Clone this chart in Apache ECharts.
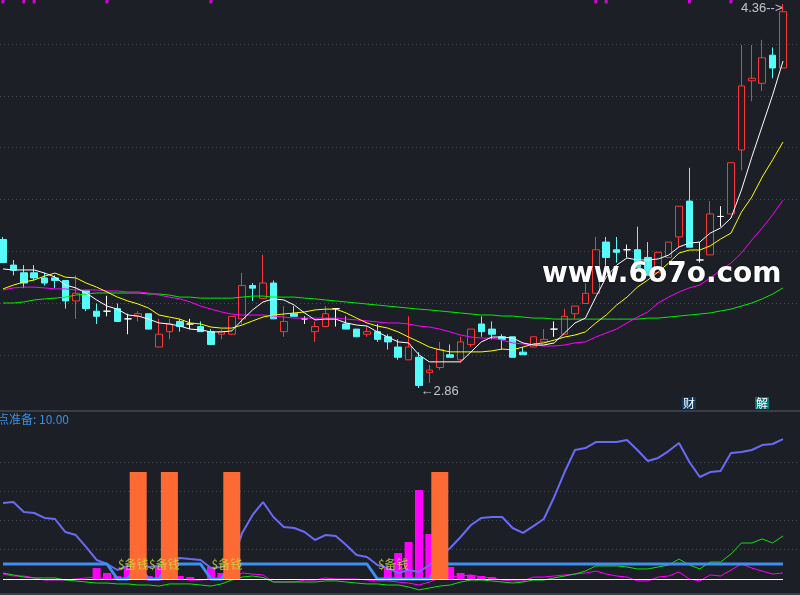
<!DOCTYPE html>
<html><head><meta charset="utf-8">
<script src="https://cdn.jsdelivr.net/npm/echarts@6/dist/echarts.min.js"></script>
<style>html,body{margin:0;padding:0;background:#1c1f26;}#c{width:800px;height:595px;}</style>
</head><body><div id="c"></div>
<script>
// [open, close, low, high]
const candles = [
[3.44,3.35,3.35,3.45],[3.34,3.32,3.30,3.36],[3.31,3.27,3.25,3.34],[3.31,3.29,3.28,3.34],[3.29,3.27,3.26,3.31],
[3.29,3.28,3.25,3.30],[3.28,3.20,3.17,3.28],[3.20,3.23,3.13,3.30],[3.24,3.17,3.16,3.24],[3.16,3.14,3.11,3.19],
[3.16,3.16,3.14,3.22],[3.17,3.12,3.12,3.19],[3.13,3.13,3.07,3.15],[3.14,3.15,3.12,3.16],[3.15,3.09,3.09,3.15],
[3.02,3.07,3.02,3.13],[3.08,3.11,3.05,3.13],[3.12,3.10,3.08,3.13],[3.11,3.11,3.09,3.13],[3.10,3.08,3.08,3.12],
[3.08,3.03,3.03,3.09],[3.07,3.08,3.05,3.09],[3.07,3.14,3.07,3.14],[3.13,3.26,3.11,3.31],[3.26,3.25,3.20,3.27],
[3.21,3.27,3.21,3.38],[3.27,3.13,3.13,3.28],[3.08,3.12,3.06,3.18],[3.15,3.14,3.14,3.18],[3.13,3.13,3.11,3.14],
[3.08,3.10,3.04,3.12],[3.10,3.15,3.10,3.18],[3.17,3.17,3.10,3.17],[3.11,3.09,3.09,3.14],[3.09,3.06,3.06,3.09],
[3.07,3.08,3.06,3.10],[3.08,3.05,3.04,3.11],[3.06,3.04,3.01,3.07],[3.02,2.98,2.97,3.05],[2.97,3.02,2.97,3.14],
[2.98,2.87,2.86,3.00],[2.92,2.93,2.88,2.95],[2.94,3.01,2.93,3.04],[2.99,2.98,2.98,3.03],[2.97,3.04,2.96,3.06],
[3.03,3.09,3.02,3.09],[3.11,3.08,3.06,3.14],[3.09,3.07,3.05,3.12],[3.06,3.05,3.01,3.07],[3.06,2.98,2.98,3.06],
[3.00,2.99,2.99,3.02],[3.02,3.06,3.02,3.06],[3.04,3.05,3.04,3.09],[3.09,3.09,3.06,3.12],[3.07,3.14,3.07,3.17],
[3.15,3.18,3.13,3.18],[3.19,3.23,3.19,3.27],[3.23,3.40,3.23,3.45],[3.43,3.37,3.33,3.45],[3.40,3.39,3.35,3.45],
[3.40,3.40,3.37,3.42],[3.40,3.33,3.33,3.49],[3.37,3.30,3.30,3.43],[3.31,3.39,3.31,3.39],[3.37,3.43,3.37,3.43],
[3.45,3.57,3.41,3.57],[3.59,3.41,3.41,3.72],[3.36,3.36,3.35,3.43],[3.38,3.54,3.38,3.59],[3.53,3.53,3.49,3.57],
[3.54,3.74,3.54,3.74],[3.79,4.04,3.71,4.20],[4.06,4.07,3.98,4.20],[4.05,4.15,4.02,4.22],[4.16,4.11,4.07,4.19],
[4.11,4.33,4.11,4.36]
];
const ma5 = [3.325,3.321,3.321,3.321,3.309,3.293,3.262,3.251,3.231,3.204,3.180,3.168,3.145,3.141,3.129,3.114,3.110,3.102,3.090,3.087,
3.079,3.079,3.083,3.126,3.165,3.196,3.208,3.204,3.184,3.153,3.126,3.129,3.129,3.114,3.106,3.102,3.079,3.059,3.040,3.036,
2.989,2.962,2.962,2.962,2.962,3.001,3.040,3.059,3.059,3.055,3.036,3.028,3.028,3.036,3.075,3.114,3.133,3.215,3.293,3.340,
3.368,3.360,3.360,3.364,3.379,3.411,3.426,3.430,3.465,3.485,3.524,3.633,3.762,3.883,4.004,4.137];
const ma10 = [3.247,3.262,3.274,3.282,3.297,3.309,3.293,3.290,3.270,3.254,3.235,3.215,3.200,3.188,3.172,3.145,3.137,3.129,3.114,3.110,
3.098,3.094,3.094,3.106,3.122,3.137,3.145,3.149,3.153,3.157,3.165,3.168,3.168,3.153,3.133,3.114,3.102,3.094,3.079,3.059,
3.040,3.020,3.009,3.001,3.001,3.001,3.001,3.005,3.012,3.009,3.020,3.032,3.036,3.047,3.059,3.067,3.079,3.114,3.145,3.184,
3.215,3.254,3.282,3.313,3.348,3.387,3.399,3.399,3.415,3.442,3.465,3.547,3.606,3.684,3.751,3.821];
const ma20 = [3.243,3.251,3.254,3.254,3.251,3.247,3.247,3.243,3.243,3.243,3.239,3.239,3.235,3.235,3.231,3.223,3.215,3.208,3.196,3.180,
3.168,3.157,3.149,3.145,3.145,3.145,3.141,3.137,3.133,3.133,3.133,3.133,3.133,3.129,3.126,3.122,3.118,3.114,3.114,3.110,
3.102,3.098,3.090,3.079,3.067,3.059,3.055,3.055,3.047,3.036,3.032,3.028,3.024,3.024,3.028,3.036,3.040,3.059,3.075,3.090,
3.114,3.137,3.157,3.192,3.215,3.235,3.251,3.262,3.290,3.321,3.348,3.387,3.438,3.485,3.536,3.594];
const ma60 = [3.192,3.192,3.196,3.204,3.208,3.211,3.215,3.223,3.227,3.231,3.231,3.231,3.231,3.231,3.227,3.227,3.223,3.215,3.215,3.211,
3.211,3.211,3.211,3.215,3.219,3.219,3.215,3.215,3.215,3.211,3.208,3.204,3.200,3.196,3.192,3.188,3.184,3.180,3.176,3.172,
3.168,3.165,3.161,3.157,3.153,3.149,3.145,3.145,3.141,3.141,3.137,3.133,3.133,3.129,3.129,3.129,3.129,3.129,3.129,3.129,
3.129,3.129,3.133,3.133,3.137,3.141,3.145,3.149,3.153,3.161,3.168,3.180,3.192,3.208,3.227,3.251];
const topMarkIdx = [0,2,3,10,20,57,58,66,70];
const highPoint = [75, 4.36];
const lowPoint = [40, 2.86];

// lower indicator panel
const lowPurple = [50.7,51.3,44.7,44,40.7,40,31.3,29.3,21.3,12.7,10,6,8.7,9.3,8,8.7,12.7,14,13.3,12.7,
7.3,8,10.7,30.7,42.7,51.3,41.3,34.7,34,31.3,26,29.3,28.7,22.7,16,14.7,9.3,7.3,4,6,
4.7,9.3,14.7,20.7,28,36,40.7,41.3,41.3,34,30.7,35.3,40,54.7,71.3,86,87.3,91.3,91.3,91.3,
92.7,86,78.7,80.7,85.3,90.7,78,68,71.3,72,84,84.7,86,89.3,90,93.3];
const lowBlue = [10,10,10,10,10,10,10,10,10,10,10,0,0,10,0,0,10,10,10,10,
0,0,10,10,10,10,10,10,10,10,10,10,10,10,10,10,0,0,0,0,
0,0,10,10,10,10,10,10,10,10,10,10,10,10,10,10,10,10,10,10,
10,10,10,10,10,10,10,10,10,10,10,10,10,10,10,10];
const lowGreen = [4,2.7,1.3,0.7,0.7,0.7,-0.7,-1.3,-2,-2.7,-2.7,-3.3,-3.3,-4,-4,-4.7,-3.3,-3.3,-3.3,-4,
-4.7,-3.3,-0.7,1.3,2,1,-2,-2,-2,-2,-2,-1.3,-1.3,-2,-2.7,-3.3,-3.3,-4,-4,-5.3,
-7.3,-6,-4.7,-4,-2,-0.7,-0.7,-1.3,-2,-2.7,-2,-0.7,-0.7,0.7,2,3.3,5.3,8.7,8.7,8.7,
8,6.7,6.7,8,9.3,13.3,9.3,6.7,11.3,11.3,16.7,24,24,26.7,24,28.7];
const lowMagenta = [3.3,2,2,0.7,-0.7,-0.7,-0.7,0,0.7,1.3,0,0,0,0,-0.7,-0.7,0,0,-0.7,-0.7,
0,0,0,4,3.3,2.7,-2,-2,-2,-0.7,-0.7,0.7,0,0,0,-0.7,-1.3,-1.3,-2,-2.7,
-4,-2,0.7,1.3,2,2.7,1.3,0.7,-0.7,-1.3,-1.3,1.3,1.3,2,2.7,3.3,4,5.3,3.3,2,
1.3,-1.3,-1.3,1.3,2,4.7,0,-1.3,2.7,2,6,10,7.3,5.3,3.3,4];
const magentaBars = [[9,7.3],[10,4],[11,2],[12,7.3],[14,2],[15,8],[17,2],[18,1.3],[20,8],[21,4],
[37,7.3],[38,17.3],[39,24.7],[40,59.3],[41,30],[43,8],[44,4],[45,2.7],[46,2],[47,1.3]];
const orangeBars = [[13,71.3],[16,71.3],[22,71.3],[42,71.3]];
const signalIdx = [11,14,20,36];
const signalLevel = 10;
const signalText = '$备钱';
const panelTitle = '点准备: 10.00';

const cats = candles.map((_, i) => i);
const BG = '#1c1f26';
const chart = echarts.init(document.getElementById('c'), null, {renderer: 'canvas'});
const hiddenCat = (grid) => ({type: 'category', data: cats, gridIndex: grid, boundaryGap: false, show: false});
const dotted = {show: true, lineStyle: {color: '#474b54', width: 1, type: [1, 3]}};

chart.setOption({
  backgroundColor: BG,
  animation: false,
  textStyle: {fontFamily: '"Liberation Sans","Noto Sans CJK SC",sans-serif'},
  grid: [
    {left: 3, right: 17, top: 0, height: 410},
    {left: 3, right: 17, top: 411, height: 183},
    {left: 0, right: 0, top: 44, height: 311},
    {left: 0, right: 0, top: 462, height: 87},
    {left: 0, right: 0, top: 411, height: 183}
  ],
  xAxis: [
    hiddenCat(0), hiddenCat(1), hiddenCat(1),
    {type: 'value', gridIndex: 2, show: false, min: 0, max: 1},
    {type: 'value', gridIndex: 3, show: false, min: 0, max: 1},
    {type: 'value', gridIndex: 4, min: 0, max: 1, position: 'top', axisLine: {show: true, onZero: false, lineStyle: {color: '#3a3d45', width: 2}}, axisTick: {show: false}, axisLabel: {show: false}, splitLine: {show: false}},
    {type: 'value', gridIndex: 4, min: 0, max: 1, position: 'bottom', axisLine: {show: true, onZero: false, lineStyle: {color: '#3a3d45', width: 2}}, axisTick: {show: false}, axisLabel: {show: false}, splitLine: {show: false}}
  ],
  yAxis: [
    {type: 'value', gridIndex: 0, min: 2.774, max: 4.3756, show: false},
    {type: 'value', gridIndex: 1, min: -10, max: 112, show: false},
    {type: 'value', gridIndex: 2, min: 0, max: 6, interval: 1, axisLine: {show: false}, axisTick: {show: false}, axisLabel: {show: false}, splitLine: dotted},
    {type: 'value', gridIndex: 3, min: 0, max: 3, interval: 1, axisLine: {show: false}, axisTick: {show: false}, axisLabel: {show: false}, splitLine: dotted},
    {type: 'value', gridIndex: 4, min: 0, max: 1, show: false}
  ],
  graphic: [
    {type: 'text', left: 542, top: 261, z: 100, style: {text: 'www.6o7o.com', fill: '#ffffff', font: 'bold 28px "DejaVu Sans"', textShadowColor: 'rgba(0,0,0,0.6)', textShadowBlur: 2}},
    {type: 'text', left: -3, top: 413, style: {text: panelTitle, fill: '#3b8fe2', font: '12px "Noto Sans CJK SC"'}},
    {type: 'text', left: 682, top: 397, style: {text: '财', fill: '#ffffff', font: '12px "Noto Sans CJK SC"', backgroundColor: '#0c3a66', padding: [0, 1]}},
    {type: 'text', left: 755, top: 397, style: {text: '解', fill: '#ffffff', font: '12px "Noto Sans CJK SC"', backgroundColor: '#0b7272', padding: [0, 1]}}
  ],
  series: [
    {type: 'candlestick', xAxisIndex: 0, yAxisIndex: 0, data: candles, barWidth: 7, clip: false, z: 2,
     itemStyle: {color: BG, color0: '#54fcfc', borderColor: '#ff3434', borderColor0: '#54fcfc', borderColorDoji: '#ffffff', borderWidth: 1}},
    {type: 'line', xAxisIndex: 0, yAxisIndex: 0, data: ma60, symbol: 'none', z: 3, lineStyle: {color: '#00ee00', width: 1}},
    {type: 'line', xAxisIndex: 0, yAxisIndex: 0, data: ma20, symbol: 'none', z: 3, lineStyle: {color: '#ff00ff', width: 1}},
    {type: 'line', xAxisIndex: 0, yAxisIndex: 0, data: ma10, symbol: 'none', z: 3, lineStyle: {color: '#ffff00', width: 1}},
    {type: 'line', xAxisIndex: 0, yAxisIndex: 0, data: ma5, symbol: 'none', z: 3, lineStyle: {color: '#ffffff', width: 1}},
    {type: 'scatter', xAxisIndex: 0, yAxisIndex: 0, data: topMarkIdx.map(i => [i, 4.37]), symbol: 'rect', symbolSize: [3, 4], itemStyle: {color: '#ff00ff'}, silent: true, z: 4},
    {type: 'scatter', xAxisIndex: 0, yAxisIndex: 0, symbolSize: 1, itemStyle: {color: 'transparent'}, silent: true, z: 5,
     data: [
       {value: highPoint, label: {show: true, position: 'left', distance: 2, offset: [2, 4], formatter: highPoint[1].toFixed(2) + '-->', color: '#e8ecf2', fontSize: 13}},
       {value: lowPoint, label: {show: true, position: 'right', distance: 1, offset: [0, 3], formatter: '←' + lowPoint[1].toFixed(2), color: '#e8ecf2', fontSize: 13}}
     ]},
    {type: 'bar', xAxisIndex: 1, yAxisIndex: 1, data: magentaBars, barWidth: 8, itemStyle: {color: '#ff00ff'}, z: 1,
     markLine: {silent: true, symbol: 'none', label: {show: false}, lineStyle: {color: '#ffffff', width: 1, type: 'solid'}, data: [{yAxis: 0}]}},
    {type: 'line', xAxisIndex: 1, yAxisIndex: 1, data: lowMagenta, symbol: 'none', z: 2, lineStyle: {color: '#ff00ff', width: 1}},
    {type: 'line', xAxisIndex: 1, yAxisIndex: 1, data: lowGreen, symbol: 'none', z: 2, lineStyle: {color: '#11e011', width: 1}},
    {type: 'line', xAxisIndex: 1, yAxisIndex: 1, data: lowPurple, symbol: 'none', z: 3, lineStyle: {color: '#6a6af5', width: 2}},
    {type: 'line', xAxisIndex: 1, yAxisIndex: 1, data: lowBlue, symbol: 'none', z: 3, lineStyle: {color: '#3d8ff0', width: 3}},
    {type: 'bar', xAxisIndex: 2, yAxisIndex: 1, data: orangeBars, barWidth: 17, itemStyle: {color: '#ff6a34'}, z: 5},
    {type: 'scatter', xAxisIndex: 1, yAxisIndex: 1, data: signalIdx.map(i => [i, signalLevel]), symbolSize: 1, itemStyle: {color: 'transparent'}, silent: true, z: 6,
     label: {show: true, position: 'right', distance: 0, formatter: signalText, color: '#c8e03c', fontSize: 12, fontFamily: '"Noto Sans CJK SC"'}}
  ]
});
</script>
</body></html>
